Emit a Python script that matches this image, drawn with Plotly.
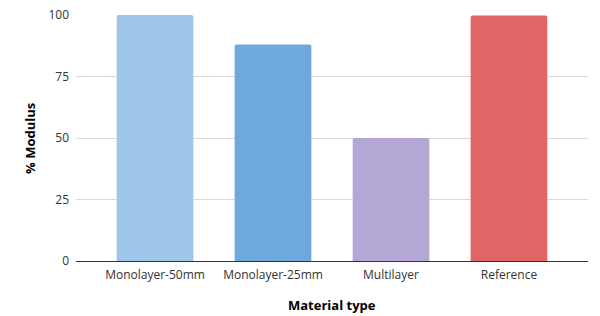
import plotly.graph_objects as go

categories = ["Monolayer-50mm", "Monolayer-25mm", "Multilayer", "Reference"]
values = [100, 88, 50, 99.8]
colors = ["#9FC5E8", "#6FA8DC", "#B4A7D6", "#E06666"]
y_ticks = [0, 25, 50, 75, 100]

fig = go.Figure(go.Bar(
    x=categories, y=values,
    marker=dict(color=colors, line=dict(width=0), cornerradius=2),
    width=0.65,
))

fig.update_layout(
    width=600, height=316,
    margin=dict(l=76, r=12, t=15, b=55),
    paper_bgcolor="white", plot_bgcolor="white",
    font=dict(family="Open Sans", size=12, color="#333333"),
    showlegend=False,
    xaxis=dict(
        range=[-0.67, 3.67], automargin=False,
        showline=True, linecolor="#333333", linewidth=1,
        ticks="", ticklabelstandoff=3,
        tickfont=dict(size=12, color="#333333"),
    ),
    yaxis=dict(
        range=[0, 100], automargin=False,
        tickvals=y_ticks,
        gridcolor="#D9D9D9", gridwidth=1,
        zeroline=False, showline=False, ticks="",
        ticklabelstandoff=6,
        tickfont=dict(size=12, color="#333333"),
    ),
    annotations=[
        dict(text="<b>Material type</b>", xref="paper", yref="paper",
             x=0.5, y=-0.177, xanchor="center", yanchor="middle",
             showarrow=False, font=dict(size=13, color="#000000")),
        dict(text="<b>% Modulus</b>", xref="paper", yref="paper",
             x=-0.09, y=0.5, xanchor="center", yanchor="middle", textangle=-90,
             showarrow=False, font=dict(size=13, color="#000000")),
    ],
)

fig.write_html("out.html")
